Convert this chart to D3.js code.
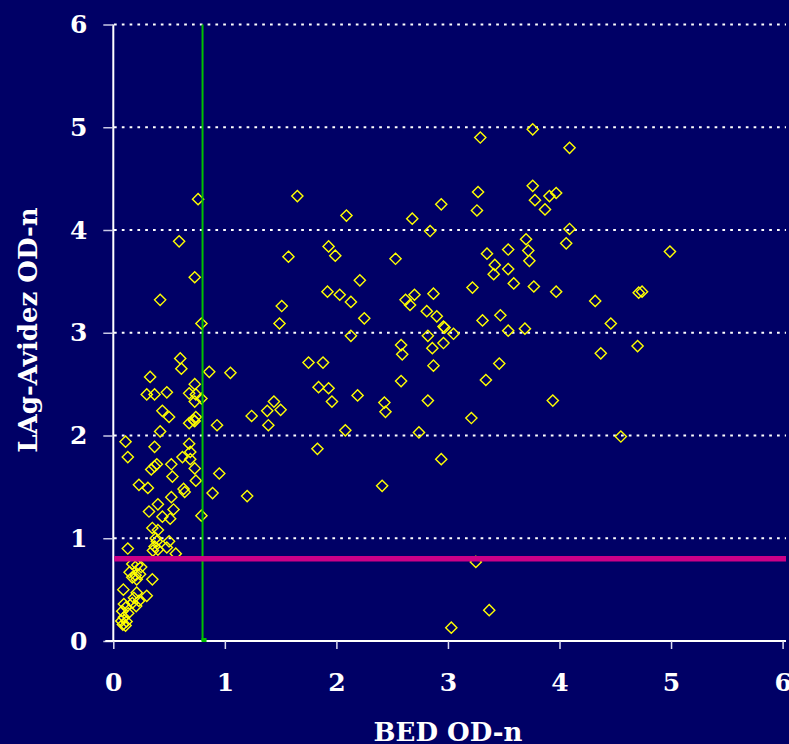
<!DOCTYPE html>
<html><head><meta charset="utf-8">
<script src="https://cdn.jsdelivr.net/npm/d3@7"></script>
<style>html,body{margin:0;padding:0;background:#000066;overflow:hidden}</style>
</head><body><svg id="c" width="789" height="744"></svg>
<script>
// ---- data ----
const bedOD = [
 0.76,0.59,0.73,0.42,0.79,0.60,0.61,0.33,0.86,1.05,
 0.73,0.30,0.37,0.48,0.68,0.74,0.73,0.79,0.44,0.50,
 0.68,0.72,0.74,0.73,0.93,0.42,0.11,0.37,0.68,0.13,
 0.62,0.69,0.69,0.39,0.37,0.34,0.52,0.73,0.53,0.95,
 0.74,0.23,0.31,0.63,0.64,0.89,1.20,0.52,0.40,0.32,
 0.54,0.79,0.44,0.51,0.35,0.40,0.38,0.39,0.37,0.355,
 0.40,0.50,0.48,0.56,0.13,0.17,0.215,0.25,0.146,0.20,
 0.24,0.17,0.21,0.35,0.09,0.21,0.30,0.185,0.23,0.17,
 0.205,0.095,0.116,0.08,0.134,0.095,0.072,0.119,0.086,0.11,
 1.24,1.38,1.44,1.50,1.39,
 1.65,2.09,2.68,2.94,3.27,3.26,2.84,1.93,1.99,1.57,
 2.53,3.35,3.54,3.42,3.41,3.54,3.59,2.21,3.22,1.92,
 2.03,2.13,2.62,2.70,2.66,2.87,1.51,1.49,2.25,2.81,
 2.90,2.96,2.97,3.05,3.31,3.47,3.54,2.13,2.82,2.58,
 2.59,2.96,2.86,1.75,1.88,2.87,3.46,3.34,2.58,1.84,
 1.93,2.19,1.96,2.43,2.44,2.82,2.08,3.21,2.74,1.83,
 2.94,2.41,3.25,3.37,3.03,
 3.76,3.29,4.09,3.76,3.78,3.91,3.97,3.87,4.09,3.70,
 4.06,4.99,3.72,3.73,3.77,3.97,4.32,4.71,4.74,3.69,
 4.46,4.70,4.37,3.94,4.55
];
const lagAvidezOD = [
 4.30,3.89,3.54,3.32,3.09,2.75,2.65,2.57,2.62,2.61,
 2.50,2.40,2.40,2.42,2.41,2.40,2.33,2.36,2.24,2.18,
 2.12,2.15,2.18,2.14,2.10,2.04,1.94,1.89,1.92,1.79,
 1.79,1.84,1.77,1.72,1.70,1.67,1.72,1.68,1.60,1.63,
 1.56,1.52,1.49,1.48,1.45,1.44,1.41,1.40,1.33,1.26,
 1.28,1.22,1.21,1.19,1.10,1.08,1.00,0.97,0.92,0.88,
 0.89,0.97,0.91,0.85,0.90,0.75,0.74,0.72,0.67,0.64,
 0.65,0.62,0.60,0.60,0.50,0.47,0.44,0.42,0.39,0.37,
 0.34,0.36,0.33,0.29,0.27,0.23,0.195,0.19,0.16,0.15,
 2.19,2.24,2.33,2.25,2.10,
 4.33,4.14,4.11,4.25,4.37,4.19,3.99,3.84,3.75,3.74,
 3.72,3.77,3.81,3.66,3.57,3.62,3.48,3.51,3.44,3.40,
 3.37,3.30,3.32,3.37,3.27,3.38,3.26,3.09,3.14,3.21,
 3.16,3.06,3.05,2.99,3.12,3.17,3.02,2.97,2.97,2.88,
 2.79,2.90,2.85,2.71,2.71,2.68,2.70,2.54,2.53,2.47,
 2.46,2.39,2.33,2.32,2.23,2.34,2.05,2.17,2.03,1.87,
 1.77,1.51,0.77,0.30,0.13,
 4.98,4.90,4.80,4.43,4.29,4.33,4.36,4.20,4.01,3.91,
 3.87,3.79,3.80,3.70,3.45,3.40,3.31,3.39,3.40,3.04,
 3.09,2.87,2.80,2.34,1.99
];
const xTicks = [0,1,2,3,4,5,6];
const yTicks = [0,1,2,3,4,5,6];
const bedCutoff = 0.8;
const lagCutoff = 0.8;
const xTitle = "BED OD-n";
const yTitle = "LAg-Avidez OD-n";

// ---- drawing ----
const svg = d3.select("#c");
const W = 789, H = 744;
svg.append("rect").attr("width", W).attr("height", H).attr("fill", "#000066");

const x = d3.scaleLinear().domain([0, 6]).range([113.3, 782.6]);
const y = d3.scaleLinear().domain([0, 6]).range([641, 24.5]);
const font = "'DejaVu Serif', serif";

// gridlines
svg.append("g").selectAll("line").data(yTicks.filter(d => d > 0)).join("line")
  .attr("x1", 114).attr("x2", 786)
  .attr("y1", d => y(d)).attr("y2", d => y(d))
  .attr("stroke", "#ffffff").attr("stroke-width", 1.8)
  .attr("stroke-dasharray", "2.7,5.1");

// y axis
const yAxis = svg.append("g").attr("transform", `translate(${x(0)},0)`)
  .call(d3.axisLeft(y).tickValues(yTicks).tickSize(10).tickPadding(16).tickFormat(d3.format("d")));
yAxis.select(".domain").attr("stroke", "#ffffff").attr("stroke-width", 2)
  .attr("d", `M0,${y(6)}V${y(0)}`);
yAxis.selectAll(".tick line").attr("stroke", "#c8c8e6").attr("stroke-width", 1.5);
yAxis.selectAll(".tick text").attr("fill", "#ffffff").attr("font-family", font)
  .attr("font-weight", "bold").attr("font-size", 25);

// x axis
const xAxis = svg.append("g").attr("transform", `translate(0,${y(0)})`)
  .call(d3.axisBottom(x).tickValues(xTicks).tickSize(8).tickPadding(24).tickFormat(d3.format("d")));
xAxis.select(".domain").attr("stroke", "#ffffff").attr("stroke-width", 2)
  .attr("d", `M${x(0) - 8},0H786`);
xAxis.selectAll(".tick line").attr("stroke", "#dcdcf0").attr("stroke-width", 1.5);
xAxis.selectAll(".tick text").attr("fill", "#ffffff").attr("font-family", font)
  .attr("font-weight", "bold").attr("font-size", 25);

// points
const pts = bedOD.map((b, i) => ({b, l: lagAvidezOD[i]}));
const r = 5.6;
svg.append("g").selectAll("path").data(pts).join("path")
  .attr("transform", d => `translate(${x(d.b)},${y(d.l)})`)
  .attr("d", `M0,${-r}L${r},0L0,${r}L${-r},0Z`)
  .attr("fill", "none").attr("stroke", "#ffff00").attr("stroke-width", 1.4);

// cutoff lines
svg.append("line")
  .attr("x1", x(bedCutoff)).attr("x2", x(bedCutoff))
  .attr("y1", y(6)).attr("y2", y(0))
  .attr("stroke", "#00c000").attr("stroke-width", 2);
svg.append("rect")
  .attr("x", x(bedCutoff) - 1).attr("y", y(0) - 3).attr("width", 5).attr("height", 4)
  .attr("fill", "#00c000");
svg.append("line")
  .attr("x1", x(0) + 1).attr("x2", 786)
  .attr("y1", y(lagCutoff)).attr("y2", y(lagCutoff))
  .attr("stroke", "#cc0088").attr("stroke-width", 5.5);

// titles
svg.append("text").attr("x", 448).attr("y", 741).attr("text-anchor", "middle")
  .attr("fill", "#ffffff").attr("font-family", font).attr("font-weight", "bold")
  .attr("font-size", 26).text(xTitle);
svg.append("text").attr("transform", "translate(37,330) rotate(-90)").attr("text-anchor", "middle")
  .attr("fill", "#ffffff").attr("font-family", font).attr("font-weight", "bold")
  .attr("font-size", 26).text(yTitle);
</script>
</body></html>
